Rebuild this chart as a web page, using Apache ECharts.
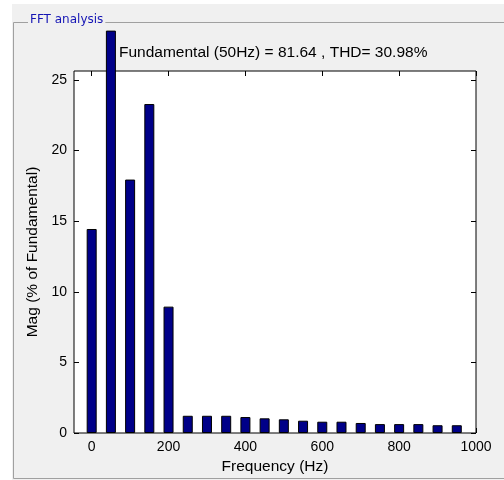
<!DOCTYPE html>
<html>
<head>
<meta charset="utf-8">
<script src="https://cdn.jsdelivr.net/npm/echarts@6/dist/echarts.min.js"></script>
<style>
    html, body { margin: 0; padding: 0; background: #ffffff; }
    #fft { width: 504px; height: 480px; }
</style>
</head>
<body>
<div id="fft"></div>
<script>
// harmonic frequencies (Hz) and magnitudes (% of fundamental)
var freqs = [0, 50, 100, 150, 200, 250, 300, 350, 400, 450, 500, 550, 600, 650, 700, 750, 800, 850, 900, 950];
var mags = [14.45, 28.5, 17.95, 23.3, 8.95, 1.22, 1.22, 1.22, 1.13, 1.04, 0.97, 0.87, 0.8, 0.8, 0.71, 0.63, 0.63, 0.63, 0.55, 0.55];
var xTicks = [0, 200, 400, 600, 800, 1000];
var yTicks = [0, 5, 10, 15, 20, 25];
var titleText = 'Fundamental (50Hz) = 81.64 , THD= 30.98%';

var font = 'Liberation Sans, Arial, sans-serif';
var barData = [];
var i;
for (i = 0; i < freqs.length; i++) {
    barData.push([freqs[i], mags[i]]);
}

function plain(v) {
    return String(v);
}

var chart = echarts.init(document.getElementById('fft'));

var option = {
    backgroundColor: '#f0f0f0',
    animation: false,
    title: {
        text: titleText,
        left: 119,
        top: 45,
        padding: 0,
        textStyle: { fontFamily: font, fontSize: 15.5, fontWeight: 'normal', color: '#000' }
    },
    graphic: [
        // white strips on top and left of the window
        { type: 'rect', left: 0, top: 0, shape: { width: 504, height: 4 }, style: { fill: '#fff' }, silent: true },
        { type: 'rect', left: 0, top: 0, shape: { width: 12, height: 480 }, style: { fill: '#fff' }, silent: true },
        // group box
        { type: 'polyline', shape: { points: [[504, 22.5], [13.5, 22.5], [13.5, 478.5], [504, 478.5]] },
          style: { stroke: '#a0a0a0', lineWidth: 1, fill: null }, silent: true },
        { type: 'text', left: 28, top: 14,
          style: { text: 'FFT analysis', fill: '#1414b4', font: '12px Tahoma, DejaVu Sans, sans-serif',
                   backgroundColor: '#f0f0f0', padding: [0, 2, 0, 2] }, silent: true }
    ],
    grid: {
        left: 74, top: 71, width: 402, height: 362,
        show: true, backgroundColor: '#fff', borderColor: '#000', borderWidth: 1
    },
    xAxis: [{
        type: 'value', min: -46, max: 1000,
        name: 'Frequency (Hz)', nameLocation: 'middle', nameGap: 25,
        nameTextStyle: { fontFamily: font, fontSize: 15.5, color: '#000' },
        axisLine: { show: false, onZero: false },
        axisTick: { show: true, inside: true, length: 5, customValues: xTicks, lineStyle: { color: '#000' } },
        axisLabel: { customValues: xTicks, formatter: plain, margin: 7, fontFamily: font, fontSize: 14, color: '#000' },
        splitLine: { show: false }
    }, {
        type: 'value', min: -46, max: 1000, position: 'top',
        axisLine: { show: false, onZero: false },
        axisTick: { show: true, inside: true, length: 5, customValues: xTicks, lineStyle: { color: '#000' } },
        axisLabel: { show: false },
        splitLine: { show: false }
    }],
    yAxis: [{
        type: 'value', min: 0, max: 25.64,
        name: 'Mag (% of Fundamental)', nameLocation: 'middle', nameGap: 32,
        nameTextStyle: { fontFamily: font, fontSize: 15.5, color: '#000' },
        axisLine: { show: false, onZero: false },
        axisTick: { show: true, inside: true, length: 5, customValues: yTicks, lineStyle: { color: '#000' } },
        axisLabel: { customValues: yTicks, formatter: plain, margin: 7, fontFamily: font, fontSize: 14, color: '#000' },
        splitLine: { show: false }
    }, {
        type: 'value', min: 0, max: 25.64, position: 'right',
        axisLine: { show: false, onZero: false },
        axisTick: { show: true, inside: true, length: 5, customValues: yTicks, lineStyle: { color: '#000' } },
        axisLabel: { show: false },
        splitLine: { show: false }
    }],
    series: [{
        type: 'bar',
        data: barData,
        barWidth: 10,
        clip: false,
        itemStyle: { color: '#000088', borderColor: '#000', borderWidth: 1 }
    }]
};

chart.setOption(option);
</script>
</body>
</html>
